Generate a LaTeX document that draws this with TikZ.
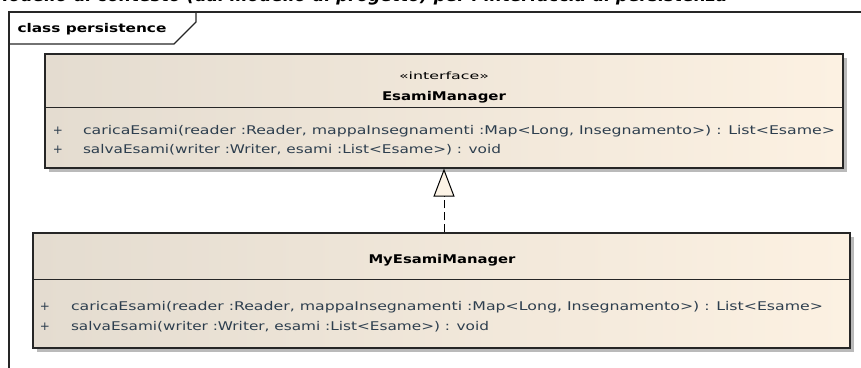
\documentclass[tikz,border=0pt]{standalone}
\usepackage{fontspec}
\setmainfont{DejaVu Sans}
\usetikzlibrary{arrows.meta,shadows}
\definecolor{boxL}{RGB}{228,220,208}
\definecolor{boxR}{RGB}{252,241,226}
\definecolor{methc}{RGB}{45,62,78}
\definecolor{tipc}{RGB}{252,243,230}
\newsavebox\fitbox
\newcommand\fitw[2]{\sbox\fitbox{#2}\pgfmathsetmacro\fitfac{#1/\the\wd\fitbox}\scalebox{\fitfac}[1]{\usebox\fitbox}}
\newcommand\methfont{\fontsize{12}{14}\selectfont\color{methc}}
\tikzset{
  umlbox/.style={draw=black!85, line width=1.1pt, left color=boxL, right color=boxR,
    rectangle, inner sep=0pt,
    drop shadow={shadow xshift=4pt, shadow yshift=-4pt, fill=black!45, opacity=0.6}},
  sepline/.style={draw=black!85, line width=1pt},
  txt/.style={inner sep=0pt, outer sep=0pt},
  framel/.style={draw=black!85, line width=1.2pt},
  realize/.style={draw=black, line width=1pt, dash pattern=on 8pt off 4pt,
    -{Triangle[open, width=21pt, length=28pt, fill=tipc]}}
}
\begin{document}
\begin{tikzpicture}[x=1pt,y=-1pt]
\clip (0,0) rectangle (861,367);
\useasboundingbox (0,0) rectangle (861,367);
% cut-off caption at the top
\node[txt, anchor=base west] (cap) at (-8,1) {\fontsize{17}{19}\selectfont\bfseries\itshape Modello di contesto (dal modello di progetto) per l'interfaccia di persistenza};
% frame
\coordinate (ftl) at (9,12);
\coordinate (ftr) at (870,12);
\coordinate (fbl) at (9,375);
\draw[framel] (ftr) -- (ftl) -- (fbl);
\coordinate (tab1) at (196,12);
\coordinate (tab2) at (196,22);
\coordinate (tab3) at (174,44);
\coordinate (tab4) at (9,44);
\draw[framel] (tab1) -- (tab2) -- (tab3) -- (tab4);
\node[txt] (title) at (92,29) {\fitw{149}{\fontsize{12}{14}\selectfont\bfseries class persistence}};
% interface box
\node[umlbox, minimum width=798pt, minimum height=114pt] (iface) at (444,111) {};
\draw[sepline] (iface.west |- 0,107) -- (iface.east |- 0,107);
\node[txt] (stereo) at (444,76) {\fitw{90}{\fontsize{10}{12}\selectfont «interface»}};
\node[txt] (iname) at (444,97) {\fitw{124}{\fontsize{12}{14}\selectfont\bfseries EsamiManager}};
\node[txt] (ip1) at (58,131) {\methfont +};
\node[txt] (ip2) at (58,150) {\methfont +};
\node[txt, anchor=west] (im1) at (83,131) {\fitw{752}{\methfont caricaEsami(reader :Reader, mappaInsegnamenti :Map<Long, Insegnamento>) : List<Esame>}};
\node[txt, anchor=west] (im2) at (83,150) {\fitw{418}{\methfont salvaEsami(writer :Writer, esami :List<Esame>) : void}};
% implementation box
\node[umlbox, minimum width=817pt, minimum height=115pt] (impl) at (441.5,290.5) {};
\draw[sepline] (impl.west |- 0,279) -- (impl.east |- 0,279);
\node[txt] (mname) at (442,260) {\fitw{147}{\fontsize{12}{14}\selectfont\bfseries MyEsamiManager}};
\node[txt] (mp1) at (45,307) {\methfont +};
\node[txt] (mp2) at (45,327) {\methfont +};
\node[txt, anchor=west] (mm1) at (71,307) {\fitw{752}{\methfont caricaEsami(reader :Reader, mappaInsegnamenti :Map<Long, Insegnamento>) : List<Esame>}};
\node[txt, anchor=west] (mm2) at (71,327) {\fitw{418}{\methfont salvaEsami(writer :Writer, esami :List<Esame>) : void}};
% realization
\draw[realize] (impl.north -| iface.south) -- (iface.south);
\end{tikzpicture}
\end{document}
